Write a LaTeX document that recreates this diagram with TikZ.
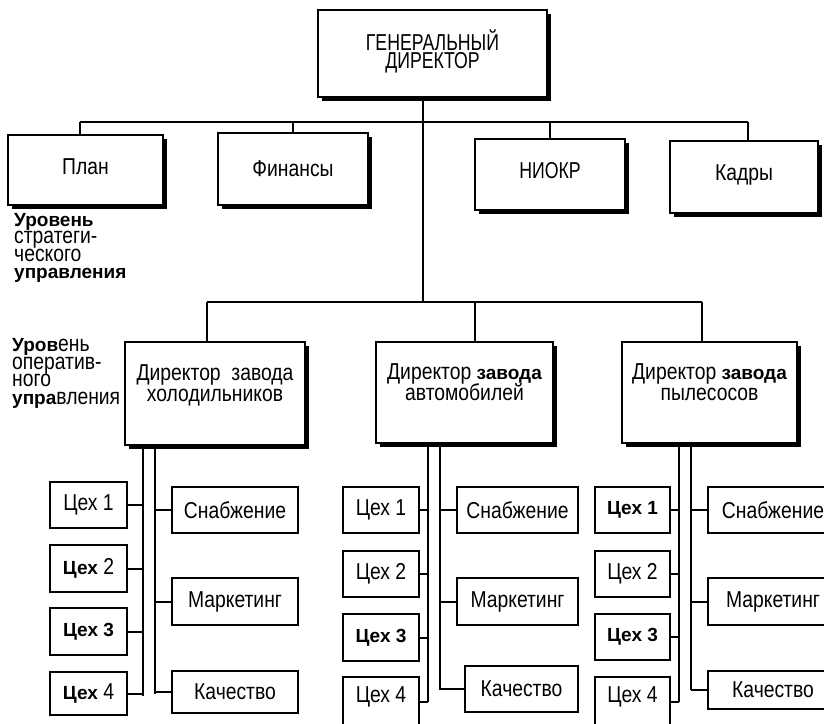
\documentclass[tikz,border=0pt]{standalone}
\usepackage{fontspec}
\setmainfont{Liberation Sans}[FakeStretch=0.84]
\newfontfamily\capsfont{Liberation Sans}[FakeStretch=0.77]
\newfontfamily\bfont{Liberation Sans}
\newcommand\bld[1]{{\bfont\bfseries\fontsize{19}{18}\selectfont #1}}
\newcommand\boxfont{\fontsize{23}{18}\selectfont\lineskiplimit=-100pt\relax}
\newcommand\capfont{\capsfont\fontsize{23}{18}\selectfont\lineskiplimit=-100pt\relax}
\newcommand\dirfont{\fontsize{23}{21}\selectfont\lineskiplimit=-100pt\relax}
\newcommand\lvlfont{\fontsize{23}{17.5}\selectfont\lineskiplimit=-100pt\relax}
\usetikzlibrary{shadows}
\tikzset{
  ln/.style={line width=2pt},
  topbox/.style={font=\boxfont, draw, line width=2.2pt, fill=white, align=center, inner sep=0pt,
    drop shadow={shadow xshift=4pt, shadow yshift=-4pt, fill=black, opacity=1}},
  subbox/.style={font=\boxfont, draw, line width=1.9pt, fill=white, align=center, inner sep=0pt},
  lvl/.style={font=\lvlfont, align=left, anchor=north west, inner sep=0pt}
}
\begin{document}
\begin{tikzpicture}[x=1pt,y=-1pt]
\useasboundingbox (0,0) rectangle (824,723);
\begin{scope}
\clip (0,0) rectangle (824,723);

% ---------- top level ----------
\node[topbox, font=\capfont, minimum width=229pt, minimum height=87pt, text depth=8pt] (gd) at (432.5,53.5) {ГЕНЕРАЛЬНЫЙ\\ДИРЕКТОР};
\node[topbox, minimum width=155pt, minimum height=70pt, text depth=6pt] (plan) at (85.5,170) {План};
\node[topbox, minimum width=150pt, minimum height=72pt] (fin) at (293,169) {Финансы};
\node[topbox, font=\capfont, minimum width=150pt, minimum height=71pt, text depth=8pt] (niokr) at (550,174.5) {НИОКР};
\node[topbox, minimum width=148pt, minimum height=72pt, text depth=8pt] (kadry) at (744,177) {Кадры};

\coordinate (t) at (423,122);
\coordinate (bl) at (80,122);
\coordinate (br) at (748,122);
\draw[ln] (bl) -- (br);
\draw[ln] (t |- gd.south) -- (t);
\draw[ln] (bl) -- (bl |- plan.north);
\draw[ln] (fin.north |- bl) -- (fin.north);
\draw[ln] (niokr.north |- bl) -- (niokr.north);
\draw[ln] (br) -- (br |- kadry.north);

\node[lvl] (ls) at (14,213) {\bld{Уровень}\\стратеги-\\ческого\\\bld{управления}};

% ---------- plant directors ----------
\node[topbox, font=\dirfont, minimum width=180pt, minimum height=103pt, text depth=20pt] (d1) at (215,393.5) {Директор\ \ завода\\холодильников};
\node[topbox, font=\dirfont, minimum width=177pt, minimum height=101pt, text depth=20pt] (d2) at (464.5,392.5) {Директор \bld{завода}\\автомобилей};
\node[topbox, font=\dirfont, minimum width=175pt, minimum height=101pt, text depth=20pt] (d3) at (709.5,392.5) {Директор \bld{завода}\\пылесосов};

\coordinate (m) at (423,302);
\coordinate (ml) at (207,302);
\coordinate (mc) at (475,302);
\coordinate (mr) at (702,302);
\draw[ln] (t) -- (m);
\draw[ln] (ml) -- (mr);
\draw[ln] (ml) -- (ml |- d1.north);
\draw[ln] (mc) -- (mc |- d2.north);
\draw[ln] (mr) -- (mr |- d3.north);

\node[lvl] (lo) at (12,338.5) {\bld{Уров}ень\\оператив-\\ного\\\bld{упра}вления};

% ---------- column 1 ----------
\coordinate (v1l) at (143,696);
\coordinate (v1r) at (155,694);
\draw[ln] (v1l |- d1.south) -- (v1l);
\draw[ln] (v1r |- d1.south) -- (v1r);
\node[subbox, minimum width=77pt, minimum height=46pt] (w11) at (88.5,505) {Цех 1};
\node[subbox, minimum width=77pt, minimum height=47pt] (w12) at (88.5,568.5) {\bld{Цех} 2};
\node[subbox, minimum width=77pt, minimum height=47pt] (w13) at (88.5,631.5) {\bld{Цех 3}};
\node[subbox, minimum width=77pt, minimum height=43pt] (w14) at (88.5,693.5) {\bld{Цех} 4};
\node[subbox, minimum width=126pt, minimum height=46pt] (s1) at (235,510) {Снабжение};
\node[subbox, minimum width=126pt, minimum height=47pt] (k1) at (235,601.5) {Маркетинг};
\node[subbox, minimum width=126pt, minimum height=42pt] (q1) at (235,692) {Качество};
\foreach \n in {w11,w12,w13,w14} \draw[ln] (\n.east) -- (\n.east -| v1l);
\foreach \n in {s1,k1,q1} \draw[ln] (\n.west) -- (\n.west -| v1r);

% ---------- column 2 ----------
\coordinate (v2l) at (428,702);
\coordinate (v2r) at (440,690);
\draw[ln] (v2l |- d2.south) -- (v2l);
\draw[ln] (v2r |- d2.south) -- (v2r);
\node[subbox, minimum width=76pt, minimum height=46pt] (w21) at (381,510) {Цех 1};
\node[subbox, minimum width=76pt, minimum height=46pt] (w22) at (381,574) {Цех 2};
\node[subbox, minimum width=76pt, minimum height=47pt] (w23) at (381,637.5) {\bld{Цех 3}};
\node[subbox, minimum width=76pt, minimum height=50pt, text depth=14pt] (w24) at (381,702) {Цех 4};
\node[subbox, minimum width=121pt, minimum height=46pt] (s2) at (517.5,510) {Снабжение};
\node[subbox, minimum width=121pt, minimum height=47pt] (k2) at (517.5,601.5) {Маркетинг};
\node[subbox, minimum width=113pt, minimum height=46pt] (q2) at (521.5,689) {Качество};
\foreach \n in {w21,w22,w23,w24} \draw[ln] (\n.east) -- (\n.east -| v2l);
\foreach \n in {s2,k2,q2} \draw[ln] (\n.west) -- (\n.west -| v2r);

% ---------- column 3 ----------
\coordinate (v3l) at (679,702);
\coordinate (v3r) at (691,690);
\draw[ln] (v3l |- d3.south) -- (v3l);
\draw[ln] (v3r |- d3.south) -- (v3r);
\node[subbox, minimum width=75pt, minimum height=46pt] (w31) at (632.5,510) {\bld{Цех 1}};
\node[subbox, minimum width=75pt, minimum height=46pt] (w32) at (632.5,574) {Цех 2};
\node[subbox, minimum width=75pt, minimum height=46pt] (w33) at (632.5,637) {\bld{Цех 3}};
\node[subbox, minimum width=75pt, minimum height=50pt, text depth=14pt] (w34) at (632.5,702) {Цех 4};
\node[subbox, minimum width=130pt, minimum height=46pt] (s3) at (773,510) {Снабжение};
\node[subbox, minimum width=130pt, minimum height=47pt] (k3) at (773,601.5) {Маркетинг};
\node[subbox, minimum width=130pt, minimum height=38pt] (q3) at (773,690) {Качество};
\foreach \n in {w31,w32,w33,w34} \draw[ln] (\n.east) -- (\n.east -| v3l);
\foreach \n in {s3,k3,q3} \draw[ln] (\n.west) -- (\n.west -| v3r);
\end{scope}
\end{tikzpicture}
\end{document}
